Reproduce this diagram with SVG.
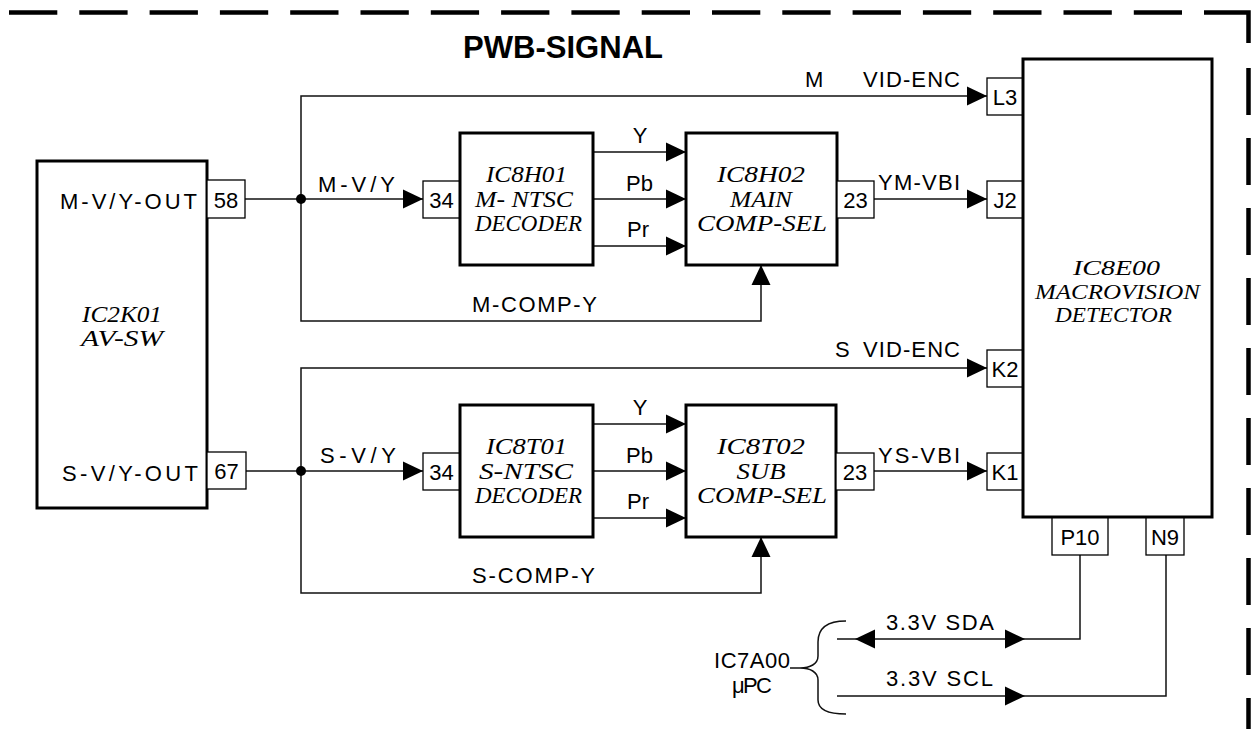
<svg xmlns="http://www.w3.org/2000/svg" xmlns:xlink="http://www.w3.org/1999/xlink" width="1251" height="729" viewBox="0 0 1251 729">
<style>
.blk{fill:#fff;stroke:#000;stroke-width:3}
.pin{fill:#fff;stroke:#000;stroke-width:1.3}
.wire{fill:none;stroke:#111;stroke-width:1.5}
.brd{fill:none;stroke:#000;stroke-width:4.5}
.t{font-family:"Liberation Sans",Arial,sans-serif;font-size:22px;fill:#000}
.c{text-anchor:middle}
.it{font-family:"Liberation Serif","Times New Roman",serif;font-style:italic;font-size:24px;fill:#000;text-anchor:middle}
.it2{font-size:21px}
.ttl{font-family:"Liberation Sans",Arial,sans-serif;font-size:32px;font-weight:bold;fill:#000}
</style>
<defs>
<path id="ah" d="M0,0 L-20,-9.5 L-20,9.5 Z" fill="#000"/>
</defs>
<rect width="1251" height="729" fill="#fff"/>

<g id="border">
<path class="brd" d="M9,12.5 H1182" stroke-dasharray="48.3 22"/>
<path class="brd" d="M1204,12.5 H1248.5 V43"/>
<path class="brd" d="M1248.5,68 V729" stroke-dasharray="47 23"/>
</g>

<text class="ttl" x="463" y="58" textLength="200" lengthAdjust="spacingAndGlyphs">PWB-SIGNAL</text>

<g id="connectors">
<path class="wire" d="M987,96 H301 V321 H761 V265"/>
<path class="wire" d="M245,199 H423"/>
<path class="wire" d="M593,152 H686 M593,199 H686 M593,246 H686"/>
<path class="wire" d="M874,199 H987"/>
<path class="wire" d="M987,368 H301 V593 H761 V537"/>
<path class="wire" d="M246,471 H423"/>
<path class="wire" d="M593,424 H686 M593,471 H686 M593,518 H686"/>
<path class="wire" d="M874,471 H987"/>
<path class="wire" d="M1080,555 V639 H837"/>
<path class="wire" d="M1166,555 V696 H837"/>
<circle cx="301" cy="199" r="5" fill="#000"/>
<circle cx="301" cy="471" r="5" fill="#000"/>
<use xlink:href="#ah" href="#ah" transform="translate(987,96)"/>
<use xlink:href="#ah" href="#ah" transform="translate(423,199)"/>
<use xlink:href="#ah" href="#ah" transform="translate(686,152)"/>
<use xlink:href="#ah" href="#ah" transform="translate(686,199)"/>
<use xlink:href="#ah" href="#ah" transform="translate(686,246)"/>
<use xlink:href="#ah" href="#ah" transform="translate(987,199)"/>
<use xlink:href="#ah" href="#ah" transform="translate(761,265) rotate(-90)"/>
<use xlink:href="#ah" href="#ah" transform="translate(987,368)"/>
<use xlink:href="#ah" href="#ah" transform="translate(423,471)"/>
<use xlink:href="#ah" href="#ah" transform="translate(686,424)"/>
<use xlink:href="#ah" href="#ah" transform="translate(686,471)"/>
<use xlink:href="#ah" href="#ah" transform="translate(686,518)"/>
<use xlink:href="#ah" href="#ah" transform="translate(987,471)"/>
<use xlink:href="#ah" href="#ah" transform="translate(761,537) rotate(-90)"/>
<use xlink:href="#ah" href="#ah" transform="translate(855,639) rotate(180)"/>
<use xlink:href="#ah" href="#ah" transform="translate(1025,639)"/>
<use xlink:href="#ah" href="#ah" transform="translate(1025,696)"/>
<path class="wire" d="M846,621 C828,621 818,628 818,642 L818,656 C818,664 810,668 800,668 C810,668 818,672 818,680 L818,700 C818,710 828,714 846,714 M800,668 H790"/>
<text class="t" x="805" y="87">M <tspan x="863" textLength="97" lengthAdjust="spacing">VID-ENC</tspan></text>
<text class="t" x="318" y="192" textLength="77" lengthAdjust="spacing">M-V/Y</text>
<text class="t c" x="640" y="143">Y</text>
<text class="t c" x="639.5" y="191">Pb</text>
<text class="t c" x="638" y="237">Pr</text>
<text class="t" x="878" y="190" textLength="82" lengthAdjust="spacing">YM-VBI</text>
<text class="t" x="472" y="312" textLength="125" lengthAdjust="spacing">M-COMP-Y</text>
<text class="t" x="835" y="357">S <tspan x="863" textLength="97" lengthAdjust="spacing">VID-ENC</tspan></text>
<text class="t" x="320" y="463" textLength="76" lengthAdjust="spacing">S-V/Y</text>
<text class="t c" x="640" y="415">Y</text>
<text class="t c" x="639.5" y="463">Pb</text>
<text class="t c" x="638" y="509">Pr</text>
<text class="t" x="878" y="463" textLength="82" lengthAdjust="spacing">YS-VBI</text>
<text class="t" x="472" y="583" textLength="123" lengthAdjust="spacing">S-COMP-Y</text>
<text class="t" x="886" y="630" textLength="108" lengthAdjust="spacing">3.3V  SDA</text>
<text class="t" x="886" y="686" textLength="107" lengthAdjust="spacing">3.3V  SCL</text>
</g>

<g id="IC2K01">
<rect class="blk" x="37" y="161" width="170" height="347"/>
<rect class="pin" x="207" y="180" width="38" height="38"/>
<rect class="pin" x="207" y="452" width="39" height="37"/>
<text class="t" x="60" y="209" textLength="137" lengthAdjust="spacing">M-V/Y-OUT</text>
<text class="t" x="62" y="481" textLength="136" lengthAdjust="spacing">S-V/Y-OUT</text>
<text class="t c" x="226" y="207.5">58</text>
<text class="t c" x="226.5" y="479">67</text>
<text class="it" x="122" y="322" textLength="80" lengthAdjust="spacingAndGlyphs">IC2K01</text>
<text class="it" x="122" y="346" textLength="82" lengthAdjust="spacingAndGlyphs">AV-SW</text>
</g>

<g id="IC8H01">
<rect class="pin" x="423" y="181" width="37" height="37"/>
<rect class="blk" x="460" y="133" width="133" height="132"/>
<text class="t c" x="441.5" y="207.5">34</text>
<text class="it" x="526.5" y="182" textLength="81" lengthAdjust="spacingAndGlyphs">IC8H01</text>
<text class="it" x="524" y="206.5" textLength="98" lengthAdjust="spacingAndGlyphs">M- NTSC</text>
<text class="it" x="528.5" y="230.5" textLength="107" lengthAdjust="spacingAndGlyphs">DECODER</text>
</g>

<g id="IC8H02">
<rect class="blk" x="686" y="133" width="151" height="132"/>
<rect class="pin" x="837" y="181" width="37" height="37"/>
<text class="t c" x="855.5" y="207.5">23</text>
<text class="it" x="761" y="182" textLength="88" lengthAdjust="spacingAndGlyphs">IC8H02</text>
<text class="it" x="761" y="206.5" textLength="62" lengthAdjust="spacingAndGlyphs">MAIN</text>
<text class="it" x="762" y="230.5" textLength="130" lengthAdjust="spacingAndGlyphs">COMP-SEL</text>
</g>

<g id="IC8T01">
<rect class="pin" x="423" y="453" width="37" height="37"/>
<rect class="blk" x="460" y="405" width="133" height="132"/>
<text class="t c" x="441.5" y="479.5">34</text>
<text class="it" x="526.5" y="454" textLength="81" lengthAdjust="spacingAndGlyphs">IC8T01</text>
<text class="it" x="526" y="478.5" textLength="94" lengthAdjust="spacingAndGlyphs">S-NTSC</text>
<text class="it" x="528.5" y="502.5" textLength="107" lengthAdjust="spacingAndGlyphs">DECODER</text>
</g>

<g id="IC8T02">
<rect class="blk" x="686" y="405" width="150" height="132"/>
<rect class="pin" x="836" y="453" width="38" height="37"/>
<text class="t c" x="855" y="479.5">23</text>
<text class="it" x="761" y="454" textLength="88" lengthAdjust="spacingAndGlyphs">IC8T02</text>
<text class="it" x="761" y="478.5" textLength="49" lengthAdjust="spacingAndGlyphs">SUB</text>
<text class="it" x="762" y="502.5" textLength="130" lengthAdjust="spacingAndGlyphs">COMP-SEL</text>
</g>

<g id="IC8E00">
<rect class="pin" x="987" y="78" width="36" height="37"/>
<rect class="pin" x="987" y="181" width="36" height="37"/>
<rect class="pin" x="987" y="350" width="36" height="37"/>
<rect class="pin" x="987" y="453" width="36" height="37"/>
<rect class="pin" x="1052" y="517" width="56" height="38"/>
<rect class="pin" x="1146" y="517" width="38" height="38"/>
<rect class="blk" x="1023" y="59" width="189" height="458"/>
<text class="t c" x="1005" y="104.5">L3</text>
<text class="t c" x="1005" y="207.5">J2</text>
<text class="t c" x="1005" y="376.5">K2</text>
<text class="t c" x="1005" y="479.5">K1</text>
<text class="t c" x="1080" y="544.5">P10</text>
<text class="t c" x="1165" y="544.5">N9</text>
<text class="it it2" x="1116.5" y="275" textLength="87" lengthAdjust="spacingAndGlyphs">IC8E00</text>
<text class="it it2" x="1117.5" y="299" textLength="165" lengthAdjust="spacingAndGlyphs">MACROVISION</text>
<text class="it it2" x="1113.5" y="322" textLength="117" lengthAdjust="spacingAndGlyphs">DETECTOR</text>
</g>

<g id="IC7A00">
<text class="t" x="714" y="668" textLength="76" lengthAdjust="spacing">IC7A00</text>
<text class="t" x="732" y="693" textLength="40" lengthAdjust="spacing">μPC</text>
</g>
</svg>
